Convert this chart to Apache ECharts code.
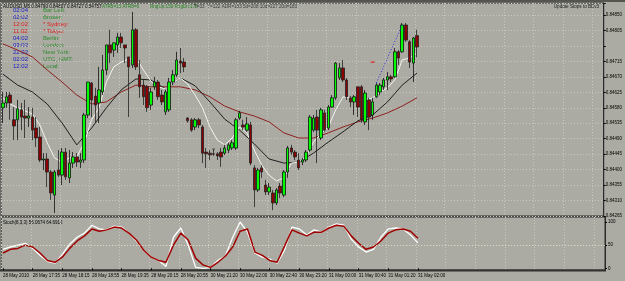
<!DOCTYPE html>
<html><head><meta charset="utf-8">
<script src="https://cdn.jsdelivr.net/npm/echarts@6/dist/echarts.min.js"></script>
<style>html,body{margin:0;padding:0;background:#ABABA3;}#c{width:625px;height:281px;}</style>
</head><body><div id="c"></div>
<script>
// ---- data ----
const tickLabels = ["28 May 2010","28 May 17:35","28 May 18:15","28 May 18:55","28 May 19:35","28 May 20:15","28 May 20:55","30 May 21:20","30 May 22:00","30 May 22:40","30 May 23:20","31 May 00:00","31 May 00:40","31 May 01:20","31 May 02:00"];
const opens = [0.84580,0.84594,0.84617,0.84545,0.84545,0.84574,0.84556,0.84550,0.84553,0.84521,0.84495,0.84428,0.84431,0.84393,0.84326,0.84399,0.84384,0.84451,0.84376,0.84419,0.84437,0.84422,0.84428,0.84559,0.84652,0.84614,0.84594,0.84626,0.84690,0.84763,0.84748,0.84763,0.84786,0.84763,0.84728,0.84705,0.84807,0.84676,0.84646,0.84641,0.84588,0.84641,0.84655,0.84617,0.84568,0.84574,0.84655,0.84676,0.84716,0.84713,0.84550,0.84545,0.84524,0.84545,0.84524,0.84451,0.84448,0.84446,0.84446,0.84451,0.84448,0.84457,0.84463,0.84463,0.84550,0.84530,0.84515,0.84530,0.84405,0.84341,0.84405,0.84355,0.84335,0.84332,0.84303,0.84352,0.84326,0.84393,0.84463,0.84451,0.84428,0.84422,0.84428,0.84457,0.84515,0.84553,0.84492,0.84565,0.84521,0.84582,0.84609,0.84667,0.84696,0.84661,0.84609,0.84597,0.84641,0.84641,0.84539,0.84603,0.84559,0.84612,0.84626,0.84641,0.84661,0.84670,0.84670,0.84743,0.84743,0.84821,0.84772,0.84710,0.84790];
const closes = [0.84594,0.84612,0.84594,0.84527,0.84577,0.84553,0.84550,0.84556,0.84515,0.84492,0.84428,0.84431,0.84393,0.84332,0.84393,0.84384,0.84451,0.84379,0.84419,0.84437,0.84422,0.84428,0.84559,0.84655,0.84603,0.84588,0.84632,0.84690,0.84763,0.84740,0.84769,0.84786,0.84769,0.84754,0.84699,0.84807,0.84699,0.84641,0.84612,0.84580,0.84626,0.84655,0.84612,0.84597,0.84626,0.84655,0.84676,0.84719,0.84710,0.84699,0.84542,0.84515,0.84545,0.84530,0.84448,0.84446,0.84443,0.84445,0.84440,0.84437,0.84463,0.84472,0.84478,0.84545,0.84565,0.84524,0.84533,0.84419,0.84341,0.84399,0.84393,0.84335,0.84349,0.84303,0.84341,0.84332,0.84393,0.84463,0.84451,0.84437,0.84405,0.84428,0.84451,0.84553,0.84550,0.84515,0.84574,0.84515,0.84582,0.84609,0.84710,0.84696,0.84661,0.84612,0.84597,0.84612,0.84582,0.84545,0.84623,0.84553,0.84597,0.84646,0.84646,0.84661,0.84670,0.84664,0.84743,0.84725,0.84821,0.84777,0.84713,0.84783,0.84757];
const lows = [0.84536,0.84580,0.84545,0.84486,0.84486,0.84515,0.84492,0.84524,0.84486,0.84466,0.84422,0.84399,0.84349,0.84312,0.84274,0.84379,0.84355,0.84370,0.84361,0.84405,0.84408,0.84405,0.84419,0.84550,0.84553,0.84536,0.84536,0.84617,0.84676,0.84710,0.84728,0.84740,0.84754,0.84710,0.84553,0.84696,0.84690,0.84609,0.84588,0.84568,0.84574,0.84632,0.84603,0.84588,0.84559,0.84568,0.84646,0.84670,0.84681,0.84684,0.84536,0.84510,0.84515,0.84521,0.84419,0.84405,0.84428,0.84440,0.84428,0.84408,0.84443,0.84448,0.84457,0.84457,0.84545,0.84515,0.84510,0.84413,0.84291,0.84335,0.84376,0.84326,0.84326,0.84282,0.84297,0.84317,0.84320,0.84376,0.84443,0.84428,0.84399,0.84413,0.84422,0.84451,0.84510,0.84419,0.84486,0.84510,0.84515,0.84580,0.84603,0.84661,0.84655,0.84603,0.84582,0.84559,0.84553,0.84536,0.84530,0.84515,0.84545,0.84609,0.84617,0.84632,0.84632,0.84655,0.84667,0.84705,0.84740,0.84772,0.84696,0.84655,0.84727];
const highs = [0.84626,0.84626,0.84626,0.84582,0.84603,0.84594,0.84603,0.84582,0.84580,0.84553,0.84524,0.84448,0.84448,0.84399,0.84399,0.84457,0.84463,0.84463,0.84457,0.84451,0.84448,0.84448,0.84565,0.84655,0.84655,0.84638,0.84699,0.84734,0.84763,0.84807,0.84769,0.84798,0.84798,0.84763,0.84728,0.84859,0.84812,0.84719,0.84661,0.84646,0.84638,0.84670,0.84661,0.84632,0.84632,0.84667,0.84690,0.84743,0.84754,0.84725,0.84553,0.84550,0.84550,0.84550,0.84530,0.84463,0.84457,0.84457,0.84451,0.84463,0.84472,0.84478,0.84486,0.84550,0.84571,0.84545,0.84553,0.84539,0.84413,0.84405,0.84413,0.84370,0.84361,0.84341,0.84346,0.84361,0.84399,0.84469,0.84472,0.84457,0.84448,0.84434,0.84457,0.84559,0.84559,0.84574,0.84580,0.84574,0.84588,0.84617,0.84713,0.84710,0.84719,0.84667,0.84614,0.84617,0.84641,0.84646,0.84632,0.84609,0.84609,0.84652,0.84652,0.84667,0.84684,0.84676,0.84754,0.84748,0.84827,0.84827,0.84777,0.84786,0.84807];
// moving averages (sampled every 4 / 2 bars)
const maSlow = [0.84766,0.84748,0.84728,0.84690,0.84655,0.84617,0.84591,0.84597,0.84626,0.84646,0.84641,0.84641,0.84641,0.84632,0.84612,0.84585,0.84568,0.84556,0.84539,0.84507,0.84492,0.84492,0.84507,0.84524,0.84539,0.84550,0.84565,0.84585,0.84609];
const maMid = [0.84678,0.84646,0.84626,0.84591,0.84536,0.84472,0.84521,0.84580,0.84632,0.84664,0.84661,0.84635,0.84667,0.84644,0.84597,0.84547,0.84515,0.84475,0.84431,0.84419,0.84422,0.84448,0.84480,0.84510,0.84542,0.84559,0.84597,0.84646,0.84681];
const maFast = [0.84609,0.84591,0.84580,0.84571,0.84562,0.84530,0.84478,0.84434,0.84422,0.84434,0.84437,0.84478,0.84545,0.84580,0.84655,0.84699,0.84713,0.84722,0.84725,0.84690,0.84658,0.84641,0.84635,0.84652,0.84667,0.84649,0.84617,0.84580,0.84524,0.84486,0.84472,0.84492,0.84524,0.84507,0.84457,0.84413,0.84384,0.84367,0.84376,0.84419,0.84422,0.84437,0.84480,0.84504,0.84524,0.84574,0.84612,0.84609,0.84603,0.84603,0.84609,0.84626,0.84638,0.84661,0.84719,0.84725,0.84740];
// stochastic (every 2 bars)
const stochK = [41,46,50,54,43,28,15,11,30,52,67,76,93,85,83,91,89,76,59,39,24,17,4,67,87,50,2,0,2,17,26,67,100,78,33,24,20,11,39,89,85,72,83,78,89,96,93,63,46,35,41,67,85,87,85,72,55];
const stochD = [33,41,43,50,46,33,17,13,24,43,59,70,85,80,83,89,87,76,61,39,24,17,13,50,76,61,22,7,2,13,26,46,80,85,35,28,17,13,48,83,76,70,78,78,87,93,91,70,54,41,46,59,76,83,85,80,65];
const priceBase = 0.84265, priceStep = 0.00045, lastPrice = 0.84757;
const trendLine = [[101, 0.84652], [108, 0.84821]];
const redDash = [[100, 0.84713]];
const arrowMark = [[57, 0.84457]];

// ---- build ----
const N = 163;
const cats = Array.from({length: N}, (_, i) => String(i));
const toU = p => Math.round((p - priceBase) * 1e6) / 10;
const candleData = opens.map((o, i) => [toU(o), toU(closes[i]), toU(lows[i]), toU(highs[i])]);
const sampled = (vals, step, f) => vals.map((v, k) => [k * step, f ? f(v) : v]);
const FONT = 'Liberation Sans';
const isLabelIdx = i => i % 8 === 0 && i / 8 < tickLabels.length;

const chart = echarts.init(document.getElementById('c'), null, {renderer: 'canvas', width: 625, height: 281});
const gridLine = {show: true, lineStyle: {color: '#C9C9C1', type: [1, 2], width: 1}};
const txt = (text, x, y, fill, size, align) => ({type: 'text', silent: true, style: {text, x, y, fill, font: size + 'px "' + FONT + '"', verticalAlign: 'middle', align: align || 'left'}});

const clockTimes = ["02:04","02:02","12:02","11:02","04:02","03:02","22:02","02:02","12:02"];
const clockNames = ["Bar Left:","Broker:","* Sydney:","* Tokyo:","Berlin:","London:","New York:","UTC_GMT:","Local:"];
const clockTimeColors = ["#1C1CC8","#1C1CC8","#E01E1E","#E01E1E","#1C1CC8","#1C1CC8","#1C1CC8","#1C1CC8","#1C1CC8"];
const clockNameColors = ["#2E8B2E","#2E8B2E","#E01E1E","#E01E1E","#2E8B2E","#2E8B2E","#2E8B2E","#2E8B2E","#2E8B2E"];
const graphics = [
  {type: 'rect', silent: true, shape: {x: 0, y: 0, width: 625, height: 2}, style: {fill: '#555550'}},
  {type: 'rect', silent: true, shape: {x: 0, y: 269.5, width: 606, height: 2}, style: {fill: '#333330'}},
  txt('AUDUSD,M5 0.84790 0.84807 0.84727 0.84757', 3, 6.5, '#000', 4.6),
  txt('ATR5=10 ATR8=6', 102, 6.5, '#1E7F1E', 4.6),
  txt('RngUp:150 RngDn:178', 150, 6.5, '#1E7F1E', 4.6),
  txt('T=33', 194, 6.5, '#3A3A3A', 4.6),
  txt('Y=122 ADR=183 5d=208 10d=227 20d=183', 207, 6.5, '#3A3A3A', 4.6),
  txt('Update Stops to BEv3', 599, 6.5, '#1a1a1a', 4.6, 'right'),
  txt('Stoch(8,3,3) 55.0674 64.6912', 3, 223, '#000', 4.5)
];
clockTimes.forEach((t, k) => {
  graphics.push(txt(t, 13, 10.5 + 7 * k, clockTimeColors[k], 6));
  graphics.push(txt(clockNames[k], 43, 10.5 + 7 * k, clockNameColors[k], 6));
});

chart.setOption({
  animation: false,
  backgroundColor: '#ABABA3',
  grid: [
    {left: 1, top: 3, width: 604, height: 213, show: true, borderColor: '#2a2a2a', borderWidth: 1, backgroundColor: 'transparent'},
    {left: 1, top: 217, width: 604, height: 53, show: true, borderColor: '#2a2a2a', borderWidth: 1, backgroundColor: 'transparent'}
  ],
  xAxis: [
    {type: 'category', data: cats, gridIndex: 0, boundaryGap: true, axisLine: {show: false}, axisTick: {show: false}, axisLabel: {show: false},
     splitLine: Object.assign({interval: (i) => i % 8 === 0}, gridLine)},
    {type: 'category', data: cats, gridIndex: 1, boundaryGap: true, axisLine: {show: false},
     axisTick: {show: true, interval: (i) => isLabelIdx(i), alignWithLabel: true, length: 2, lineStyle: {color: '#000'}},
     axisLabel: {show: true, interval: (i) => isLabelIdx(i), align: 'left', fontSize: 4.5, fontFamily: FONT, color: '#000', margin: 3,
       formatter: (v, i) => isLabelIdx(i) ? tickLabels[i / 8] : ''},
     splitLine: Object.assign({interval: (i) => i % 8 === 0}, gridLine)}
  ],
  yAxis: [
    {type: 'value', gridIndex: 0, position: 'right', min: 0, max: 620, interval: 45,
     axisLine: {show: true, lineStyle: {color: '#2a2a2a'}}, axisTick: {show: true, length: 2, lineStyle: {color: '#000'}},
     axisLabel: {fontSize: 4.5, fontFamily: FONT, color: '#000', margin: 2,
       formatter: (v) => {
         const k = Math.round(v / 45);
         if (Math.abs(v - 45 * k) > 0.01) return '';
         const p = priceBase + k * priceStep;
         if (Math.abs(p - lastPrice) < 0.0002) return '';
         return p.toFixed(5);
       }},
     splitLine: gridLine},
    {type: 'value', gridIndex: 1, position: 'right', min: -3.7, max: 110.8,
     axisLine: {show: true, lineStyle: {color: '#2a2a2a'}},
     axisTick: {show: true, length: 2, customValues: [0, 50, 100], lineStyle: {color: '#000'}},
     axisLabel: {fontSize: 4.5, fontFamily: FONT, color: '#000', margin: 3, customValues: [0, 50, 100]},
     splitLine: {show: false}}
  ],
  graphic: graphics,
  series: [
    {type: 'line', xAxisIndex: 0, yAxisIndex: 0, data: sampled(maSlow, 4, toU), symbol: 'none', lineStyle: {color: '#8E2020', width: 1}, z: 2},
    {type: 'line', xAxisIndex: 0, yAxisIndex: 0, data: sampled(maMid, 4, toU), symbol: 'none', lineStyle: {color: '#1E1E1E', width: 1}, z: 2},
    {type: 'line', xAxisIndex: 0, yAxisIndex: 0, data: sampled(maFast, 2, toU), symbol: 'none', lineStyle: {color: '#F4F4F0', width: 1}, z: 2},
    {type: 'candlestick', xAxisIndex: 0, yAxisIndex: 0, data: candleData, barWidth: 3, z: 3,
     itemStyle: {color: '#00FF00', color0: '#8B0000', borderColor: '#111', borderColor0: '#222', borderWidth: 0.8},
     markLine: {silent: true, symbol: 'none', animation: false,
       data: [
         {yAxis: toU(lastPrice), lineStyle: {opacity: 0}, label: {show: true, position: 'end', distance: 2, formatter: lastPrice.toFixed(5), backgroundColor: '#000', color: '#fff', fontSize: 4.5, fontFamily: FONT, padding: [1, 2]}},
         [{coord: [trendLine[0][0], toU(trendLine[0][1])], lineStyle: {color: '#2828E6', type: [1, 2], width: 1}, label: {show: false}},
          {coord: [trendLine[1][0], toU(trendLine[1][1])]}]
       ]}},
    {type: 'scatter', xAxisIndex: 0, yAxisIndex: 0, data: redDash.map(d => [d[0], toU(d[1])]), symbol: 'rect', symbolSize: [4, 1.5], itemStyle: {color: '#E02020'}, z: 4},
    {type: 'scatter', xAxisIndex: 0, yAxisIndex: 0, data: arrowMark.map(d => [d[0], toU(d[1])]), symbol: 'triangle', symbolRotate: 180, symbolSize: 3, itemStyle: {color: '#333'}, z: 4},
    {type: 'line', xAxisIndex: 1, yAxisIndex: 1, data: sampled(stochK, 2), symbol: 'none', lineStyle: {color: '#FFFFFF', width: 1.3}, z: 3,
     markLine: {silent: true, symbol: 'none', animation: false, label: {show: false}, data: [{yAxis: 50}], lineStyle: {color: '#E8E4C4', type: [1, 2], width: 1}}},
    {type: 'line', xAxisIndex: 1, yAxisIndex: 1, data: sampled(stochD, 2), symbol: 'none', lineStyle: {color: '#A00000', width: 1.5}, z: 4}
  ]
});
</script>
</body></html>
